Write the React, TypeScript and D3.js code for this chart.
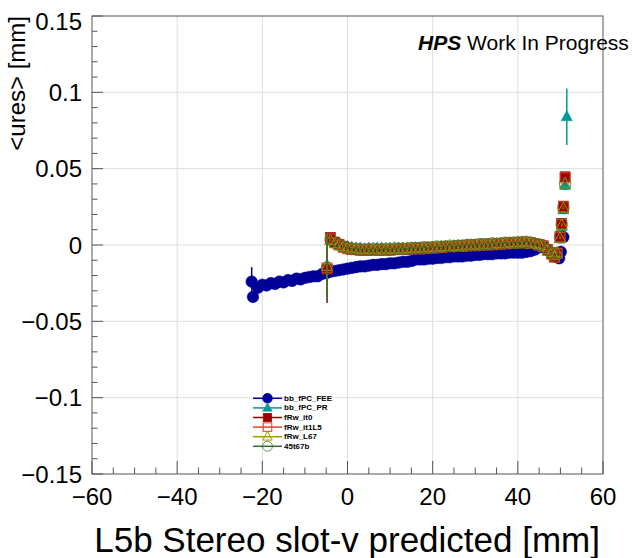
import React from 'react';
import * as d3 from 'd3';

const W = 633;
const H = 558;

const X_TICKS = [-60, -40, -20, 0, 20, 40, 60];
const X_TICK_LABELS = ['−60', '−40', '−20', '0', '20', '40', '60'];
const Y_TICKS = [-0.15, -0.1, -0.05, 0, 0.05, 0.1, 0.15];
const Y_TICK_LABELS = ['−0.15', '−0.1', '−0.05', '0', '0.05', '0.1', '0.15'];

const SERIES_NAMES = ['bb_fPC_FEE', 'bb_fPC_PR', 'fRw_it0', 'fRw_it1L5', 'fRw_L67', '45t67b'];

const X_FEE = [
  -22.5, -22.2, -21, -20, -19, -18, -17, -16, -15, -14,
  -13, -12, -11, -10, -9, -8, -7, -6, -5, -4,
  -3, -2, -1, 0, 1, 2, 3, 4, 5, 6,
  7, 8, 9, 10, 11, 12, 13, 14, 15, 16,
  17, 18, 19, 20, 21, 22, 23, 24, 25, 26,
  27, 28, 29, 30, 31, 32, 33, 34, 35, 36,
  37, 38, 39, 40, 41, 42, 43, 44, 45, 46,
  47, 48, 49, 49.7, 50.1, 50.7,
];
const Y_FEE = [
  -0.024, -0.034, -0.028, -0.026, -0.0265, -0.025, -0.0255, -0.024, -0.0245, -0.023,
  -0.0235, -0.022, -0.0225, -0.0215, -0.021, -0.0205, -0.0205, -0.019, -0.0185, -0.0175,
  -0.017, -0.0165, -0.016, -0.0155, -0.015, -0.0145, -0.014, -0.014, -0.0135, -0.013,
  -0.013, -0.0125, -0.0125, -0.012, -0.012, -0.0115, -0.011, -0.011, -0.0105, -0.0095,
  -0.0095, -0.0095, -0.009, -0.009, -0.0085, -0.0085, -0.008, -0.008, -0.0075, -0.0075,
  -0.0075, -0.007, -0.007, -0.0065, -0.0065, -0.006, -0.006, -0.006, -0.0055, -0.0055,
  -0.0055, -0.005, -0.005, -0.005, -0.005, -0.0045, -0.004, -0.003, -0.0015, -0.001,
  -0.003, -0.006, -0.0075, -0.0087, -0.0045, 0.0052,
];

const X_REF = [
  -4.8, -4, -3, -2, -1, 0, 1, 2, 3, 4,
  5, 6, 7, 8, 9, 10, 11, 12, 13, 14,
  15, 16, 17, 18, 19, 20, 21, 22, 23, 24,
  25, 26, 27, 28, 29, 30, 31, 32, 33, 34,
  35, 36, 37, 38, 39, 40, 41, 42, 43, 44,
  45, 46, 47, 48, 48.6, 49.2, 49.9, 50.3, 50.7, 51.1,
];
const X_PR = [...X_REF, 51.5];

const Y_PR = [
  -0.013, 0.003, 0.002, 0.001, -0.0005, -0.001, -0.0015, -0.002, -0.002, -0.0025,
  -0.002, -0.0025, -0.002, -0.002, -0.0025, -0.002, -0.002, -0.002, -0.002, -0.0025,
  -0.002, -0.002, -0.0025, -0.002, -0.0015, -0.0015, -0.0015, -0.001, -0.0015, -0.001,
  -0.001, -0.0005, -0.0005, -0.0005, 0.0, 0.0, 0.0, 0.0, 0.0005, 0.0005,
  0.0005, 0.001, 0.001, 0.001, 0.001, 0.0015, 0.0015, 0.0015, 0.001, 0.001,
  0.0, -0.001, -0.0035, -0.006, -0.008, -0.006, 0.004, 0.012, 0.023, 0.039,
  0.084,
];
const Y_IT0 = [
  -0.016, 0.005, 0.002, 0.0005, -0.001, -0.002, -0.0025, -0.003, -0.003, -0.0035,
  -0.003, -0.0035, -0.003, -0.003, -0.0035, -0.003, -0.003, -0.003, -0.0025, -0.003,
  -0.0025, -0.0025, -0.0025, -0.002, -0.002, -0.002, -0.0015, -0.0015, -0.0015, -0.001,
  -0.001, -0.001, -0.0005, -0.0005, -0.0005, -0.0005, 0.0, 0.0, 0.0, 0.0005,
  0.0005, 0.0005, 0.001, 0.001, 0.001, 0.0015, 0.0015, 0.0015, 0.0015, 0.001,
  0.0005, -0.0005, -0.003, -0.0055, -0.0075, -0.005, 0.0055, 0.0142, 0.0255, 0.0447,
];
const Y_IT1L5 = [
  -0.015, 0.004, 0.0015, 0.0, -0.0015, -0.0025, -0.003, -0.003, -0.0035, -0.003,
  -0.0035, -0.003, -0.0035, -0.003, -0.003, -0.0035, -0.003, -0.0025, -0.003, -0.0025,
  -0.0025, -0.002, -0.0025, -0.002, -0.0015, -0.002, -0.0015, -0.0015, -0.001, -0.001,
  -0.001, -0.0005, -0.001, -0.0005, 0.0, -0.0005, 0.0, 0.0005, 0.0, 0.0005,
  0.001, 0.0005, 0.001, 0.0015, 0.001, 0.0015, 0.002, 0.0015, 0.001, 0.001,
  0.0, -0.001, -0.0035, -0.006, -0.008, -0.0055, 0.005, 0.0135, 0.025, 0.044,
];
const Y_L67 = [
  -0.014, 0.003, 0.001, 0.0, -0.001, -0.002, -0.002, -0.0025, -0.003, -0.003,
  -0.0025, -0.003, -0.003, -0.0025, -0.003, -0.0025, -0.0025, -0.003, -0.0025, -0.002,
  -0.0025, -0.002, -0.002, -0.002, -0.0015, -0.0015, -0.0015, -0.001, -0.001, -0.001,
  -0.0005, -0.001, -0.0005, 0.0, -0.0005, 0.0, 0.0005, 0.0, 0.0005, 0.0005,
  0.001, 0.001, 0.001, 0.0015, 0.0015, 0.0015, 0.002, 0.002, 0.0015, 0.001,
  0.0005, -0.0005, -0.003, -0.005, -0.007, -0.005, 0.0045, 0.013, 0.024, 0.04,
];
const Y_45T67B = [
  -0.015, 0.0035, 0.0015, 0.0005, -0.001, -0.002, -0.0025, -0.0025, -0.003, -0.003,
  -0.003, -0.0025, -0.003, -0.003, -0.0025, -0.003, -0.0025, -0.0025, -0.0025, -0.0025,
  -0.002, -0.002, -0.002, -0.0015, -0.002, -0.0015, -0.001, -0.0015, -0.001, -0.0005,
  -0.001, -0.0005, -0.0005, 0.0, 0.0, 0.0, 0.0005, 0.0005, 0.0005, 0.001,
  0.0005, 0.001, 0.0015, 0.001, 0.0015, 0.0015, 0.0015, 0.002, 0.0015, 0.0005,
  0.0, -0.001, -0.003, -0.0055, -0.0075, -0.0055, 0.005, 0.0135, 0.0245, 0.04,
];

// Sparse list of visible (large) error bars: [x, error]
const ERR_FEE = [[-22.5, 0.0095]];
const ERR_PR = [[-4.8, 0.021], [51.5, 0.0185]];
const ERR_IT0 = [[-4.8, 0.022]];
const ERR_IT1L5 = [[-4.8, 0.021]];
const ERR_L67 = [[-4.8, 0.021]];
const ERR_45T67B = [[-4.8, 0.021]];
const DEFAULT_ERR = 0.0006;

type Shape = 'circle' | 'square' | 'triangle';
interface Series {
  name: string;
  xs: number[];
  ys: number[];
  errs: number[][];
  color: string;
  shape: Shape;
  open: boolean;
  sw: number;
}

const SERIES: Series[] = [
  { name: SERIES_NAMES[0], xs: X_FEE, ys: Y_FEE, errs: ERR_FEE, color: '#000099', shape: 'circle', open: false, sw: 0.5 },
  { name: SERIES_NAMES[1], xs: X_PR, ys: Y_PR, errs: ERR_PR, color: '#009999', shape: 'triangle', open: false, sw: 0.5 },
  { name: SERIES_NAMES[2], xs: X_REF, ys: Y_IT0, errs: ERR_IT0, color: '#990000', shape: 'square', open: false, sw: 0.5 },
  { name: SERIES_NAMES[3], xs: X_REF, ys: Y_IT1L5, errs: ERR_IT1L5, color: '#f04020', shape: 'square', open: true, sw: 1 },
  { name: SERIES_NAMES[4], xs: X_REF, ys: Y_L67, errs: ERR_L67, color: '#a39a00', shape: 'triangle', open: true, sw: 1 },
  { name: SERIES_NAMES[5], xs: X_REF, ys: Y_45T67B, errs: ERR_45T67B, color: '#2e6a2e', shape: 'circle', open: true, sw: 0.7 },
];

const FONT = '"Liberation Sans", Arial, Helvetica, sans-serif';

const M = { left: 92, right: 603, top: 16, bottom: 474 };

function Marker({ shape, x, y, color, open, sw, k = 1 }: { shape: Shape; x: number; y: number; color: string; open: boolean; sw: number; k?: number }) {
  const fill = open ? 'none' : color;
  const stroke = color;
  if (shape === 'circle') {
    return <circle cx={x} cy={y} r={5.8 * k} fill={fill} stroke={stroke} strokeWidth={sw} />;
  }
  if (shape === 'square') {
    const s = 10 * k;
    return <rect x={x - s / 2} y={y - s / 2} width={s} height={s} fill={fill} stroke={stroke} strokeWidth={sw} />;
  }
  const p = `${x},${y - 6.2 * k} ${x + 5.6 * k},${y + 4 * k} ${x - 5.6 * k},${y + 4 * k}`;
  return <polygon points={p} fill={fill} stroke={stroke} strokeWidth={sw} />;
}

export default function App() {
  const x = d3.scaleLinear().domain([-60, 60]).range([M.left, M.right]);
  const y = d3.scaleLinear().domain([-0.15, 0.15]).range([M.bottom, M.top]);

  const xMinor = x.ticks(24);
  const yMinor = y.ticks(30);
  const gridX = X_TICKS.slice(1, -1);
  const gridY = Y_TICKS.slice(1, -1);

  const errOf = (s: Series, xv: number) => {
    const f = s.errs.find((e) => Math.abs(e[0] - xv) < 1e-9);
    return f ? f[1] : DEFAULT_ERR;
  };

  const legendX0 = 253;
  const legendX1 = 282;
  const legendY0 = 398.3;
  const legendStep = 9.6;

  return (
    <svg
      width={W}
      height={H}
      viewBox={`0 0 ${W} ${H}`}
      style={{ position: 'absolute', left: 0, top: 0, display: 'block', background: '#fff' }}
      fontFamily={FONT}
    >
      <rect x={0} y={0} width={W} height={H} fill="#fff" />
      {/* grid */}
      {gridX.map((t) => (
        <line key={`gx${t}`} x1={x(t)} x2={x(t)} y1={M.top} y2={M.bottom} stroke="#dedede" strokeWidth={1} />
      ))}
      {gridY.map((t) => (
        <line key={`gy${t}`} x1={M.left} x2={M.right} y1={y(t)} y2={y(t)} stroke="#dedede" strokeWidth={1} />
      ))}

      {/* data */}
      {SERIES.map((s) => (
        <g key={s.name}>
          {s.xs.map((xv, i) => {
            const e = errOf(s, xv);
            return (
              <line
                key={`e${i}`}
                x1={x(xv)}
                x2={x(xv)}
                y1={y(s.ys[i] - e)}
                y2={y(s.ys[i] + e)}
                stroke={s.color}
                strokeWidth={1.5}
              />
            );
          })}
          {s.xs.map((xv, i) => (
            <Marker key={`m${i}`} shape={s.shape} x={x(xv)} y={y(s.ys[i])} color={s.color} open={s.open} sw={s.sw} />
          ))}
        </g>
      ))}

      {/* frame */}
      <rect x={M.left} y={M.top} width={M.right - M.left} height={M.bottom - M.top} fill="none" stroke="#555" strokeWidth={1} />

      {/* x ticks */}
      {xMinor.map((t) => {
        const major = X_TICKS.includes(t);
        return (
          <line key={`xt${t}`} x1={x(t)} x2={x(t)} y1={M.bottom} y2={M.bottom - (major ? 13 : 6.5)} stroke="#555" strokeWidth={1} />
        );
      })}
      {X_TICKS.map((t, i) => (
        <text key={`xl${t}`} x={x(t)} y={505} textAnchor="middle" fontSize={24} fill="#000">
          {X_TICK_LABELS[i]}
        </text>
      ))}

      {/* y ticks */}
      {yMinor.map((t) => {
        const major = Y_TICKS.some((v) => Math.abs(v - t) < 1e-9);
        return (
          <line key={`yt${t}`} x1={M.left} x2={M.left + (major ? 11 : 5.5)} y1={y(t)} y2={y(t)} stroke="#555" strokeWidth={1} />
        );
      })}
      {Y_TICKS.map((t, i) => (
        <text
          key={`yl${t}`}
          x={82}
          y={y(t) + (i === Y_TICKS.length - 1 ? 5 : 0)}
          textAnchor="end"
          dominantBaseline="central"
          fontSize={24}
          fill="#000"
        >
          {Y_TICK_LABELS[i]}
        </text>
      ))}

      {/* axis titles */}
      <text x={600} y={552} textAnchor="end" fontSize={35} fill="#000">
        L5b Stereo slot-v predicted [mm]
      </text>
      <text transform="translate(25,16) rotate(-90)" textAnchor="end" fontSize={24} fill="#000">
        {'<ures> [mm]'}
      </text>

      {/* label */}
      <text x={418} y={50} fontSize={21} fill="#000">
        <tspan fontWeight="bold" fontStyle="italic">HPS</tspan>
        <tspan> Work In Progress</tspan>
      </text>

      {/* legend */}
      {SERIES.map((s, i) => {
        const ly = legendY0 + i * legendStep;
        return (
          <g key={`lg${s.name}`}>
            <line x1={legendX0} x2={legendX1} y1={ly} y2={ly} stroke={s.color} strokeWidth={1.5} />
            <Marker shape={s.shape} x={(legendX0 + legendX1) / 2} y={ly} color={s.color} open={s.open} sw={s.sw} k={0.85} />
            <text x={284} y={ly} dominantBaseline="central" fontSize={8} fontWeight="bold" fill="#000">
              {s.name}
            </text>
          </g>
        );
      })}
    </svg>
  );
}
